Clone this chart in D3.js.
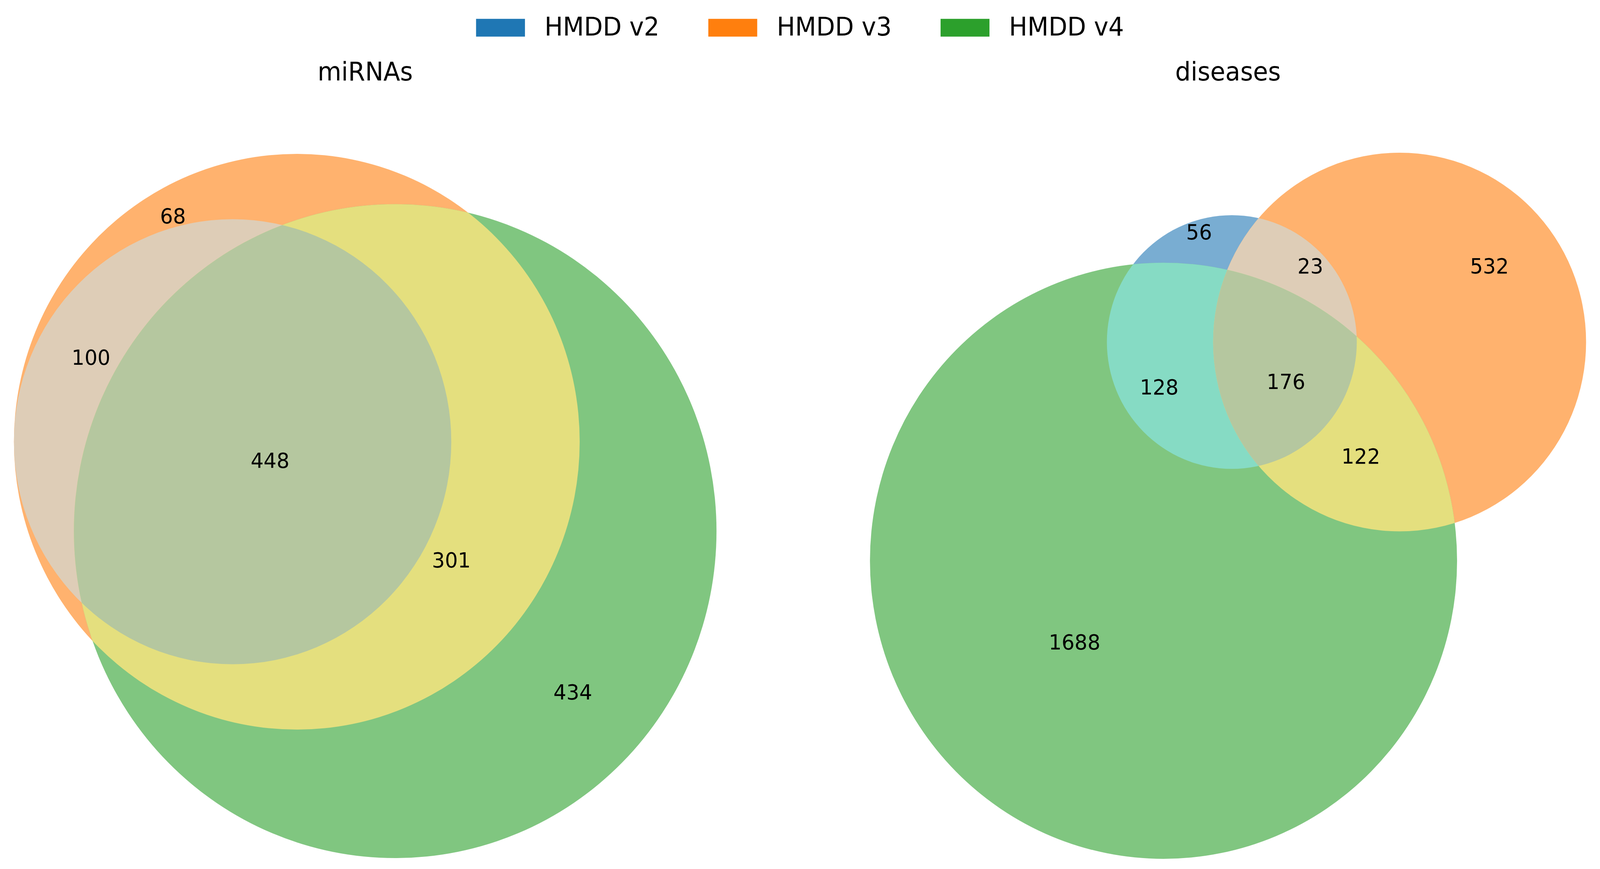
<!DOCTYPE html>
<html>
<head>
<meta charset="utf-8">
<script src="https://cdn.jsdelivr.net/npm/d3@7"></script>
<style>
  html, body { margin: 0; padding: 0; background: #ffffff; overflow: hidden; width: 100%; height: 100%; }
  svg { display: block; width: 100vw; height: 100vh; }
</style>
</head>
<body>
<svg id="chart"></svg>
<script>
// ---------------- DATA ----------------
const seriesNames  = ["HMDD v2", "HMDD v3", "HMDD v4"];          // sets A, B, C
const seriesColors = ["#1f77b4", "#ff7f0e", "#2ca02c"];
const panelTitles  = ["miRNAs", "diseases"];
// region order (matplotlib_venn venn3): Abc, aBc, ABc, abC, AbC, aBC, ABC
const regionKeys    = ["100", "010", "110", "001", "101", "011", "111"];
const mirnaCounts   = [0, 68, 100, 434, 0, 301, 448];
const diseaseCounts = [56, 532, 23, 1688, 128, 122, 176];

// ---------------- LAYOUT ----------------
const W = 4254, H = 2225;
// pixel box spanned by the circles of each panel
const panelBoxes = [
  { x0: 37,   x1: 1905, y0: 394, y1: 2197 },
  { x0: 2313, x1: 4217, y0: 391, y1: 2199 }
];
// label anchors as fractions of each panel's circle box, per region key
const mirnaLabelFrac = {
  "010": [0.2264, 0.0876], "110": [0.1097, 0.2884], "111": [0.3646, 0.4348],
  "011": [0.6226, 0.5763], "001": [0.7955, 0.7637]
};
const diseaseLabelFrac = {
  "100": [0.4596, 0.1117], "110": [0.6150, 0.1598], "010": [0.8650, 0.1598],
  "101": [0.4039, 0.3313], "111": [0.5809, 0.3236], "011": [0.6854, 0.4292],
  "001": [0.2857, 0.6925]
};
const FONT = "DejaVu Sans, Liberation Sans, sans-serif";
const titleSize = 65, labelSize = 54, legendSize = 65;
const ALPHA = 0.6;

// ---------------- VENN GEOMETRY (matplotlib_venn style) ----------------
function lensArea(r1, r2, d) {
  if (d >= r1 + r2) return 0;
  if (d <= Math.abs(r1 - r2)) return Math.PI * Math.min(r1, r2) ** 2;
  const a1 = Math.acos((d * d + r1 * r1 - r2 * r2) / (2 * d * r1));
  const a2 = Math.acos((d * d + r2 * r2 - r1 * r1) / (2 * d * r2));
  const k = (-d + r1 + r2) * (d + r1 - r2) * (d - r1 + r2) * (d + r1 + r2);
  return r1 * r1 * a1 + r2 * r2 * a2 - 0.5 * Math.sqrt(Math.max(0, k));
}
function distByArea(r1, r2, a) {
  const tol = 1e-10;
  if (Math.abs(a) < tol) return r1 + r2;
  if (Math.abs(Math.PI * Math.min(r1, r2) ** 2 - a) < 1e-9) return Math.abs(r1 - r2);
  let lo = Math.abs(r1 - r2), hi = r1 + r2;
  for (let i = 0; i < 200; i++) {
    const mid = (lo + hi) / 2;
    if (lensArea(r1, r2, mid) > a) lo = mid; else hi = mid;
  }
  return (lo + hi) / 2;
}
function venn3Layout(counts) {
  const [Abc, aBc, ABc, abC, AbC, aBC, ABC] = counts;
  const total = d3.sum(counts);
  const areas = [Abc + ABc + AbC + ABC, aBc + ABc + aBC + ABC, abC + AbC + aBC + ABC].map(v => v / total);
  const inter = [ABc + ABC, aBC + ABC, AbC + ABC].map(v => v / total); // ab, bc, ac
  const r = areas.map(a => Math.sqrt(a / Math.PI));
  const pairs = [[0, 1], [1, 2], [2, 0]];
  const d = pairs.map(([i, j], n) => distByArea(r[i], r[j], inter[n]));
  for (let i = 0; i < 3; i++) {
    const j = (i + 1) % 3, k = (i + 2) % 3;
    if (d[i] > d[j] + d[k]) {
      const [a, b] = d[j] < d[k] ? [j, k] : [k, j];
      d[i] = d[b] + d[a] * 0.8;
    }
  }
  const [dab, dbc, dac] = d;
  const cx = (dac * dac - dbc * dbc + dab * dab) / (2 * dab);
  const cy = Math.sqrt(Math.max(0, dac * dac - cx * cx));
  return { centers: [[0, 0], [dab, 0], [cx, cy]], radii: r };
}

// region colours: matplotlib_venn mixing, alpha over white
const baseRGB = seriesColors.map(c => { const q = d3.rgb(c); return [q.r / 255, q.g / 255, q.b / 255]; });
function regionColor(key) {
  const idx = [0, 1, 2].filter(i => key[i] === "1");
  let mix;
  if (idx.length === 1) mix = baseRGB[idx[0]];
  else {
    const f = idx.length === 2 ? 0.7 : 0.4;
    mix = [0, 1, 2].map(ch => Math.min(1, f * d3.sum(idx, i => baseRGB[i][ch])));
  }
  const o = mix.map(v => Math.round(255 * (ALPHA * v + (1 - ALPHA))));
  return d3.rgb(o[0], o[1], o[2]).formatHex();
}

// ---------------- DRAW ----------------
const svg = d3.select("#chart")
  .attr("viewBox", `0 0 ${W} ${H}`)
  .attr("preserveAspectRatio", "none");
svg.append("rect").attr("width", W).attr("height", H).attr("fill", "#ffffff");
const defs = svg.append("defs");

const panels = [
  { title: panelTitles[0], counts: mirnaCounts,   box: panelBoxes[0], labels: mirnaLabelFrac },
  { title: panelTitles[1], counts: diseaseCounts, box: panelBoxes[1], labels: diseaseLabelFrac }
];

panels.forEach((p, pi) => {
  const lay = venn3Layout(p.counts);
  const minX = d3.min(lay.centers, (c, i) => c[0] - lay.radii[i]);
  const maxX = d3.max(lay.centers, (c, i) => c[0] + lay.radii[i]);
  const minY = d3.min(lay.centers, (c, i) => c[1] - lay.radii[i]);
  const maxY = d3.max(lay.centers, (c, i) => c[1] + lay.radii[i]);
  const x = d3.scaleLinear().domain([minX, maxX]).range([p.box.x0, p.box.x1]);
  const y = d3.scaleLinear().domain([minY, maxY]).range([p.box.y0, p.box.y1]);
  const kx = (p.box.x1 - p.box.x0) / (maxX - minX);
  const ky = (p.box.y1 - p.box.y0) / (maxY - minY);
  const circ = lay.centers.map((c, i) => ({ cx: x(c[0]), cy: y(c[1]), rx: lay.radii[i] * kx, ry: lay.radii[i] * ky }));

  circ.forEach((c, i) => {
    defs.append("clipPath").attr("id", `clip${pi}_${i}`)
      .append("ellipse").attr("cx", c.cx).attr("cy", c.cy).attr("rx", c.rx).attr("ry", c.ry);
  });

  const g = svg.append("g").attr("class", "venn");
  // paint regions: singles, then pairs, then triple (later layers overwrite overlaps)
  const order = regionKeys.map((k, i) => ({ key: k, count: p.counts[i], bits: k.split("").filter(c => c === "1").length }))
    .sort((a, b) => a.bits - b.bits);
  order.forEach(reg => {
    if (reg.count <= 0) return;
    const idx = [0, 1, 2].filter(i => reg.key[i] === "1");
    let parent = g;
    idx.slice(0, -1).forEach(i => { parent = parent.append("g").attr("clip-path", `url(#clip${pi}_${i})`); });
    const c = circ[idx[idx.length - 1]];
    parent.append("ellipse")
      .attr("cx", c.cx).attr("cy", c.cy).attr("rx", c.rx).attr("ry", c.ry)
      .attr("fill", regionColor(reg.key));
  });

  // region labels
  const fx = d3.scaleLinear().domain([0, 1]).range([p.box.x0, p.box.x1]);
  const fy = d3.scaleLinear().domain([0, 1]).range([p.box.y0, p.box.y1]);
  regionKeys.forEach((k, i) => {
    const pos = p.labels[k];
    if (!pos || p.counts[i] <= 0) return;
    svg.append("text")
      .attr("x", fx(pos[0])).attr("y", fy(pos[1]) + 0.3645 * labelSize)
      .attr("text-anchor", "middle")
      .attr("font-family", FONT).attr("font-size", labelSize).attr("fill", "#000")
      .text(p.counts[i]);
  });

  // panel title
  svg.append("text")
    .attr("x", (p.box.x0 + p.box.x1) / 2).attr("y", 206)
    .attr("text-anchor", "middle")
    .attr("font-family", FONT).attr("font-size", titleSize).attr("fill", "#000")
    .text(p.title);
});

// ---------------- LEGEND ----------------
const handleLen = 2.0 * legendSize, handleH = 0.7 * legendSize;
const textPad = 0.8 * legendSize, colSpace = 2.0 * legendSize;
const legendBaseline = 91;
const leg = svg.append("g").attr("class", "legend");
const items = leg.selectAll("g").data(seriesNames).join("g");
items.append("text")
  .attr("font-family", FONT).attr("font-size", legendSize).attr("fill", "#000")
  .attr("y", legendBaseline)
  .text(d => d);
const widths = [];
items.select("text").each(function () { widths.push(this.getComputedTextLength()); });
const totalW = d3.sum(widths) + seriesNames.length * (handleLen + textPad) + (seriesNames.length - 1) * colSpace;
let cursor = W / 2 - totalW / 2;
items.each(function (d, i) {
  const it = d3.select(this);
  it.insert("rect", "text")
    .attr("x", cursor).attr("y", 71 - handleH / 2)
    .attr("width", handleLen).attr("height", handleH)
    .attr("fill", seriesColors[i]);
  it.select("text").attr("x", cursor + handleLen + textPad);
  cursor += handleLen + textPad + widths[i] + colSpace;
});
</script>
</body>
</html>
